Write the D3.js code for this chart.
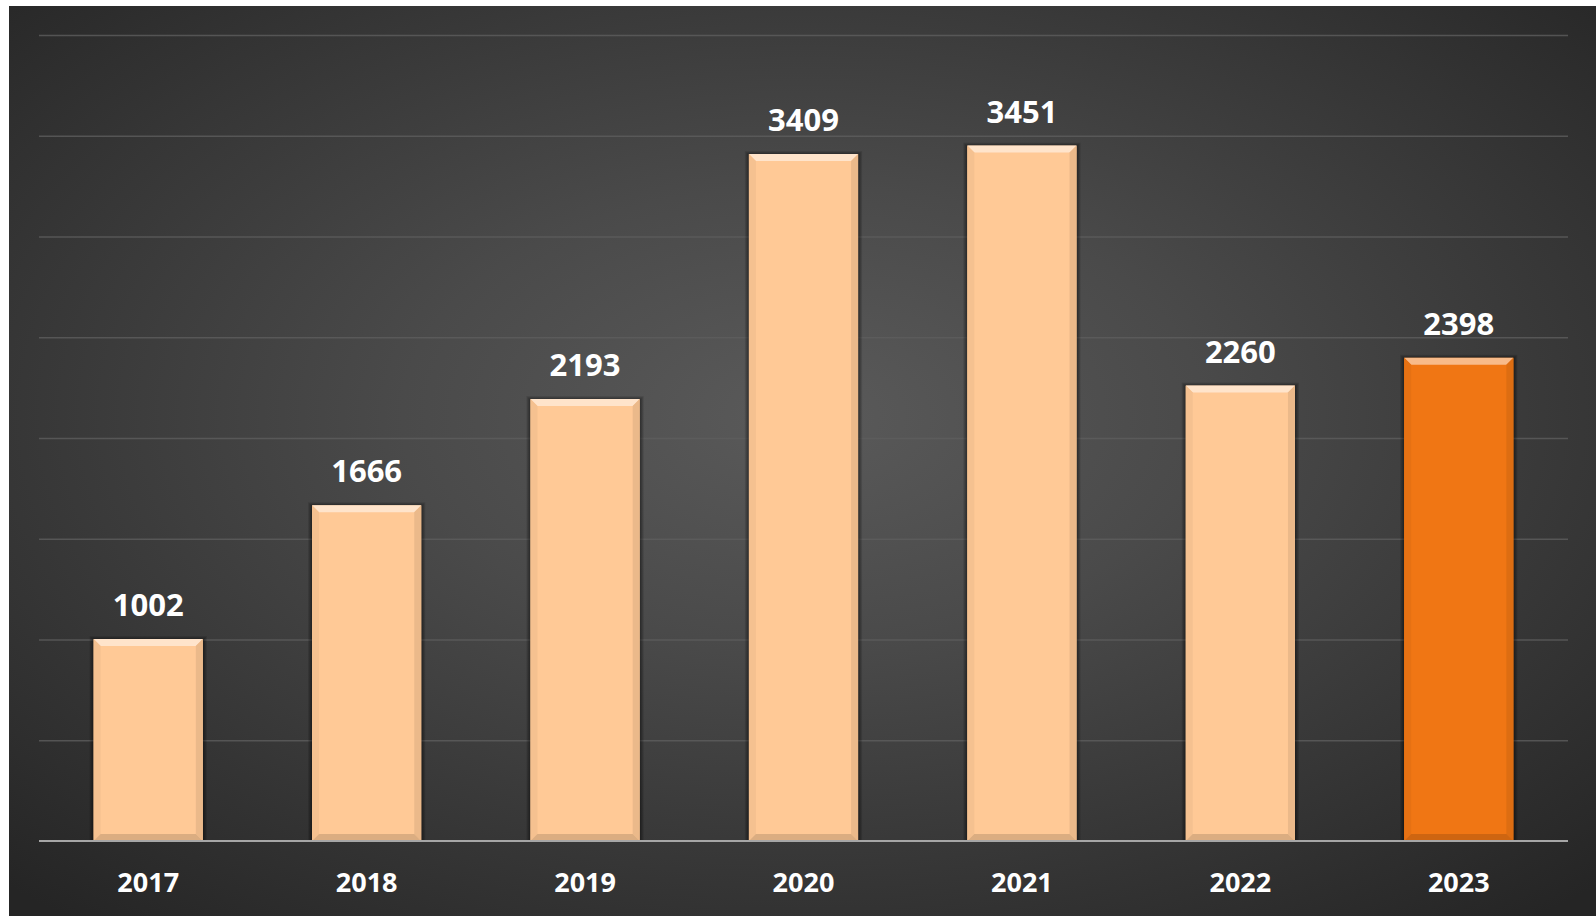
<!DOCTYPE html>
<html>
<head>
<meta charset="utf-8">
<script src="https://cdn.jsdelivr.net/npm/d3@7"></script>
<style>
    html, body { margin: 0; padding: 0; background: #fff; overflow: hidden; }
    svg { display: block; }
    text { font-family: "Open Sans", sans-serif; font-weight: 700; fill: #fff; }
</style>
</head>
<body>
<div id="chart"></div>
<script>
const years = ["2017", "2018", "2019", "2020", "2021", "2022", "2023"];
const values = [1002, 1666, 2193, 3409, 3451, 2260, 2398];
const highlightYear = "2023";
const yMax = 4000;

const chart = {
    width: 1596,
    height: 916,
    margin: { top: 35, right: 28, bottom: 75, left: 39 }
};

const innerWidth = chart.width - chart.margin.left - chart.margin.right;
const innerHeight = chart.height - chart.margin.top - chart.margin.bottom;

const svg = d3.select("#chart")
    .append("svg")
    .attr("width", chart.width)
    .attr("height", chart.height);

const defs = svg.append("defs");

// dark radial background
const bg = defs.append("radialGradient")
    .attr("id", "bg-grad")
    .attr("cx", "50%").attr("cy", "45%").attr("r", "72%");
bg.append("stop").attr("offset", "0%").attr("stop-color", "#5a5a5a");
bg.append("stop").attr("offset", "35%").attr("stop-color", "#4a4a4a");
bg.append("stop").attr("offset", "100%").attr("stop-color", "#252525");

svg.append("rect")
    .attr("x", 9).attr("y", 6)
    .attr("width", chart.width - 9)
    .attr("height", chart.height - 6)
    .attr("fill", "url(#bg-grad)");

const root = svg.append("g")
    .attr("transform", `translate(${chart.margin.left}, ${chart.margin.top})`);

const xScale = d3.scaleBand()
    .domain(years)
    .range([0, innerWidth])
    .paddingInner(0.5)
    .paddingOuter(0.25);

const yScale = d3.scaleLinear()
    .domain([0, yMax])
    .range([innerHeight, 0]);

// gridlines
root.append("g")
    .attr("class", "grid")
    .call(d3.axisLeft(yScale).ticks(8).tickSize(-innerWidth).tickFormat(""))
    .call(g => g.select(".domain").remove())
    .call(g => g.selectAll("line")
        .attr("stroke", "#5e5e5e")
        .attr("stroke-opacity", 0.8)
        .attr("stroke-width", 1.5))
    .call(g => g.selectAll(".tick").filter(d => d === 0).remove());

const data = years.map((year, i) => ({ year, value: values[i] }));

const bevel = 7;

const bars = root.append("g")
    .selectAll("g.bar")
    .data(data)
    .join("g")
    .attr("class", "bar");

bars.each(function (d) {
    const g = d3.select(this);
    const base = d.year === highlightYear ? "#F07614" : "#FFC996";
    const x0 = xScale(d.year);
    const w = xScale.bandwidth();
    const y0 = yScale(d.value);
    const y1 = yScale(0);
    const x1 = x0 + w;
    const b = bevel;

    // soft shadow, a few stacked rects
    [4, 3, 2, 1].forEach(s => {
        g.append("rect")
            .attr("x", x0 - s).attr("y", y0 - s + 1)
            .attr("width", w + 2 * s).attr("height", y1 - y0 + s - 1)
            .attr("fill", "#000")
            .attr("fill-opacity", 0.12);
    });

    g.append("rect")
        .attr("x", x0).attr("y", y0)
        .attr("width", w).attr("height", y1 - y0)
        .attr("fill", base);

    const faces = [
        { pts: [[x0, y0], [x1, y0], [x1 - b, y0 + b], [x0 + b, y0 + b]], fill: d3.interpolateRgb(base, "#fff")(0.5) },
        { pts: [[x0, y0], [x0 + b, y0 + b], [x0 + b, y1 - b], [x0, y1]], fill: d3.interpolateRgb(base, "#000")(0.04) },
        { pts: [[x1, y0], [x1 - b, y0 + b], [x1 - b, y1 - b], [x1, y1]], fill: d3.interpolateRgb(base, "#000")(0.08) },
        { pts: [[x0, y1], [x1, y1], [x1 - b, y1 - b], [x0 + b, y1 - b]], fill: d3.interpolateRgb(base, "#000")(0.14) }
    ];

    g.selectAll("polygon")
        .data(faces)
        .join("polygon")
        .attr("points", f => f.pts.map(p => p.join(",")).join(" "))
        .attr("fill", f => f.fill);
});

// value labels
root.append("g")
    .selectAll("text")
    .data(data)
    .join("text")
    .attr("x", d => xScale(d.year) + xScale.bandwidth() / 2)
    .attr("y", d => yScale(d.value) - 23)
    .attr("text-anchor", "middle")
    .style("font-size", "31px")
    .text(d => d.value);

// baseline
root.append("line")
    .attr("x1", 0).attr("x2", innerWidth)
    .attr("y1", yScale(0)).attr("y2", yScale(0))
    .attr("stroke", "#a6a6a6")
    .attr("stroke-width", 2);

// category labels
root.append("g")
    .selectAll("text")
    .data(years)
    .join("text")
    .attr("x", d => xScale(d) + xScale.bandwidth() / 2)
    .attr("y", innerHeight + 51)
    .attr("text-anchor", "middle")
    .style("font-size", "27px")
    .text(d => d);
</script>
</body>
</html>
